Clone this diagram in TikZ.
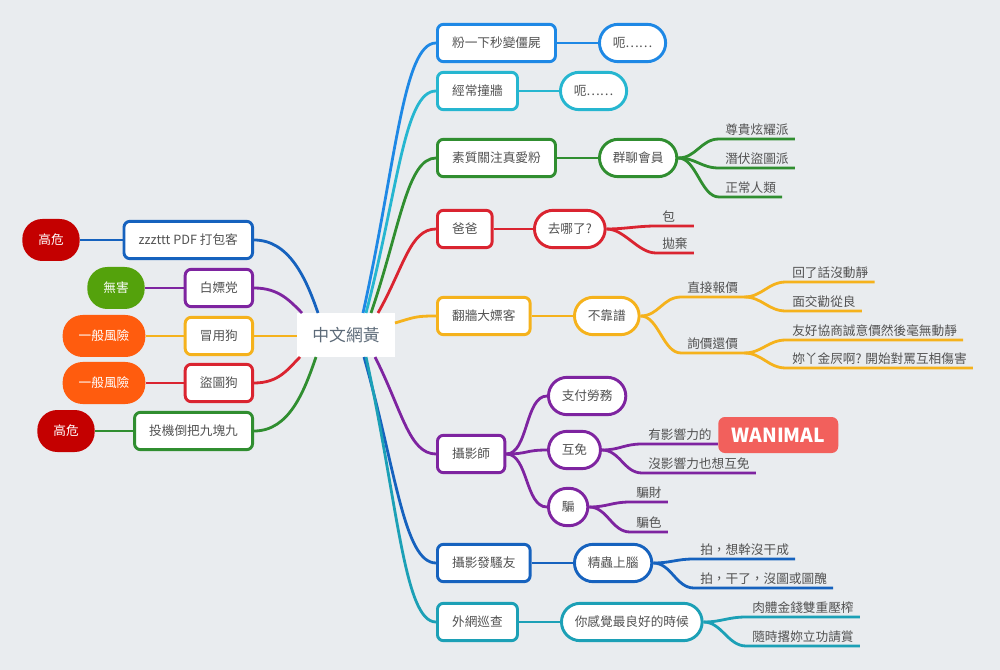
\documentclass[tikz,border=0pt]{standalone}
\usepackage{fontspec}
\setmainfont{Noto Sans CJK TC}
\definecolor{bggray}{RGB}{233,236,239}
\definecolor{txtgray}{RGB}{82,82,82}
\definecolor{rootgray}{RGB}{92,106,120}
\definecolor{mapblue}{RGB}{30,136,229}
\definecolor{mapcyan}{RGB}{38,182,208}
\definecolor{mapgreen}{RGB}{48,142,48}
\definecolor{mapred}{RGB}{218,36,48}
\definecolor{maporange}{RGB}{245,178,28}
\definecolor{mappurple}{RGB}{126,36,160}
\definecolor{mapnavy}{RGB}{22,98,190}
\definecolor{mapteal}{RGB}{28,160,182}
\definecolor{riskhigh}{RGB}{196,0,0}
\definecolor{riskok}{RGB}{84,162,12}
\definecolor{riskmid}{RGB}{255,92,14}
\definecolor{wanred}{RGB}{242,96,92}

\begin{document}
\begin{tikzpicture}[x=0.75pt, y=-0.75pt,
        every node/.style={font=\fontsize{9.5}{11}\selectfont, text=txtgray},
        box/.style={draw=#1, line width=2.2pt, fill=white, rounded corners=4.5pt, minimum height=28pt, inner xsep=11pt},
        pill/.style={box=#1, rounded corners=14pt, inner xsep=10pt},
        risk/.style={fill=#1, text=white, rounded corners=15pt, minimum height=31.5pt, inner xsep=12pt},
        leaf/.style={anchor=south west, inner xsep=4.5pt, inner ysep=2.5pt},
        conn/.style={line width=2.1pt}
    ]
    \fill[bggray] (0,0) rectangle (1000,670);
    \useasboundingbox (0,0) rectangle (1000,670);

    % root
    \node[fill=white, minimum width=73.5pt, minimum height=33pt, text=rootgray, font=\fontsize{12.6}{14}\selectfont] (root) at (346,335) {中文網黃};
    \coordinate (r1) at (363,313);
    \coordinate (r2) at (366,313);
    \coordinate (r3) at (371,313);
    \coordinate (r4) at (378,313);
    \coordinate (r5) at (395,323);
    \coordinate (r6) at (375,357);
    \coordinate (r7) at (364,357);
    \coordinate (r8) at (366,357);
    \coordinate (l1) at (318,313);
    \coordinate (l2) at (302,313);
    \coordinate (l3) at (297,336);
    \coordinate (l4) at (300,357);
    \coordinate (l5) at (316,357);

    % left side
    \node[box=mapnavy, anchor=east] (zpdf) at (254,240) {zzzttt PDF 打包客};
    \node[risk=riskhigh] (zpdfr) at (51,240) {高危};
    \node[box=mappurple, anchor=east] (bpd) at (254,288) {白嫖党};
    \node[risk=riskok] (bpdr) at (116,288) {無害};
    \node[box=maporange, anchor=east] (mgy) at (254,336) {冒用狗};
    \node[risk=riskmid] (mgyr) at (104,336) {一般風險};
    \node[box=mapred, anchor=east] (dtg) at (254,383) {盜圖狗};
    \node[risk=riskmid] (dtgr) at (104,383) {一般風險};
    \node[box=mapgreen, anchor=east] (tjd) at (254,431) {投機倒把九塊九};
    \node[risk=riskhigh] (tjdr) at (66,431) {高危};

    % right side
    \node[box=mapblue, anchor=west] (fyx) at (436,43) {粉一下秒變僵屍};
    \node[pill=mapblue, anchor=west] (fyxe) at (598,43) {呃……};
    \node[box=mapcyan, anchor=west] (jcz) at (436,91) {經常撞牆};
    \node[pill=mapcyan, anchor=west] (jcze) at (559,91) {呃……};
    \node[box=mapgreen, anchor=west] (szg) at (436,158) {素質關注真愛粉};
    \node[pill=mapgreen, anchor=west] (qlh) at (598,158) {群聊會員};
    \node[box=mapred, anchor=west] (bb) at (436,229) {爸爸};
    \node[pill=mapred, anchor=west] (qnl) at (533,229) {去哪了?};
    \node[box=maporange, anchor=west] (fqd) at (436,316) {翻牆大嫖客};
    \node[pill=maporange, anchor=west] (bkp) at (573,316) {不靠譜};
    \node[box=mappurple, anchor=west] (sys) at (436,454) {攝影師};
    \node[pill=mappurple, anchor=west] (zfl) at (547,396) {支付勞務};
    \node[pill=mappurple, anchor=west] (hm) at (547,450) {互免};
    \node[pill=mappurple, anchor=west] (pian) at (547,507) {騙};
    \node[box=mapnavy, anchor=west] (syf) at (436,563) {攝影發騷友};
    \node[pill=mapnavy, anchor=west] (jcs) at (573,563) {精蟲上腦};
    \node[box=mapteal, anchor=west] (wwx) at (436,622) {外網巡查};
    \node[pill=mapteal, anchor=west] (ngj) at (560,622) {你感覺最良好的時候};

    % leaves
    \node[leaf] (zgx) at (719,139) {尊貴炫耀派};
    \node[leaf] (qfd) at (719,168) {潛伏盜圖派};
    \node[leaf] (zcr) at (719,197) {正常人類};
    \node[leaf] (bao) at (656,226) {包};
    \node[leaf] (pq) at (656,253) {拋棄};
    \node[leaf] (zjb) at (681,297) {直接報價};
    \node[leaf] (xjh) at (681,353) {詢價還價};
    \node[leaf] (hlh) at (786,282) {回了話沒動靜};
    \node[leaf] (mjq) at (786,311) {面交勸從良};
    \node[leaf] (yhx) at (786,340) {友好協商誠意價然後毫無動靜};
    \node[leaf] (nyj) at (786,368) {妳丫金屄啊? 開始對罵互相傷害};
    \node[leaf] (yyx) at (642,444) {有影響力的};
    \node[leaf] (myx) at (642,473) {沒影響力也想互免};
    \node[fill=wanred, text=white, rounded corners=5pt, minimum width=90pt, minimum height=27pt,
          font=\fontsize{14.5}{16}\selectfont\bfseries, anchor=west] (wan) at (718,435) {WANIMAL};
    \node[leaf] (pc) at (630,502) {騙財};
    \node[leaf] (ps) at (630,532) {騙色};
    \node[leaf] (pxg) at (694,559) {拍，想幹沒干成};
    \node[leaf] (pgl) at (694,588) {拍，干了，沒圖或圖醜};
    \node[leaf] (rtj) at (746,617) {肉體金錢雙重壓榨};
    \node[leaf] (ssl) at (746,646) {隨時撂妳立功請賞};

    % root to right branches
    \draw[conn, mapblue] (r1) .. controls +(33,-149) and +(-33,0) .. (fyx.west);
    \draw[conn, mapcyan] (r2) .. controls +(32,-122) and +(-32,0) .. (jcz.west);
    \draw[conn, mapgreen] (r3) .. controls +(29,-85) and +(-29,0) .. (szg.west);
    \draw[conn, mapred] (r4) .. controls +(26,-46) and +(-26,0) .. (bb.west);
    \draw[conn, maporange] (r5) .. controls +(20,-6) and +(-20,0) .. (fqd.west);
    \draw[conn, mappurple] (r6) .. controls +(27,53) and +(-27,0) .. (sys.west);
    \draw[conn, mapnavy] (r7) .. controls +(32,113) and +(-32,0) .. (syf.west);
    \draw[conn, mapteal] (r8) .. controls +(32,146) and +(-32,0) .. (wwx.west);

    % root to left branches
    \draw[conn, mapnavy] (zpdf.east) .. controls +(35,0) and +(-12,-35) .. (l1);
    \draw[conn, mappurple] (bpd.east) .. controls +(25,0) and +(-12,-12) .. (l2);
    \draw[conn, maporange] (mgy.east) -- (l3);
    \draw[conn, mapred] (dtg.east) .. controls +(25,0) and +(-12,12) .. (l4);
    \draw[conn, mapgreen] (tjd.east) .. controls +(35,0) and +(-12,35) .. (l5);

    \draw[conn, mapnavy] (zpdfr.east) -- (zpdf.west);
    \draw[conn, mappurple] (bpdr.east) -- (bpd.west);
    \draw[conn, maporange] (mgyr.east) -- (mgy.west);
    \draw[conn, mapred] (dtgr.east) -- (dtg.west);
    \draw[conn, mapgreen] (tjdr.east) -- (tjd.west);

    % branches to second level
    \draw[conn, mapblue] (fyx.east) -- (fyxe.west);
    \draw[conn, mapcyan] (jcz.east) -- (jcze.west);
    \draw[conn, mapgreen] (szg.east) -- (qlh.west);
    \draw[conn, mapred] (bb.east) -- (qnl.west);
    \draw[conn, maporange] (fqd.east) -- (bkp.west);
    \foreach \p in {zfl,hm,pian}
        \draw[conn, mappurple] (sys.east) .. controls +(22,0) and +(-22,0) .. (\p.west);
    \draw[conn, mapnavy] (syf.east) -- (jcs.west);
    \draw[conn, mapteal] (wwx.east) -- (ngj.west);

    % leaf lines
    \foreach \l in {zgx,qfd,zcr}
        \draw[conn, mapgreen] (qlh.east) .. controls +(18,0) and +(-18,0) .. (\l.south west) -- (\l.south east);
    \draw[conn, mapred] (qnl.east) .. controls +(18,0) and +(-18,0) .. (bao.south west) -- (bao.south west -| pq.south east);
    \draw[conn, mapred] (qnl.east) .. controls +(18,0) and +(-18,0) .. (pq.south west) -- (pq.south east);
    \foreach \l in {zjb,xjh}
        \draw[conn, maporange] (bkp.east) .. controls +(18,0) and +(-18,0) .. (\l.south west) -- (\l.south east);
    \foreach \l in {hlh,mjq}
        \draw[conn, maporange] (zjb.south east) .. controls +(18,0) and +(-18,0) .. (\l.south west) -- (\l.south east);
    \foreach \l in {yhx,nyj}
        \draw[conn, maporange] (xjh.south east) .. controls +(18,0) and +(-18,0) .. (\l.south west) -- (\l.south east);
    \foreach \l in {yyx,myx}
        \draw[conn, mappurple] (hm.east) .. controls +(18,0) and +(-18,0) .. (\l.south west) -- (\l.south east);
    \foreach \l in {pc,ps}
        \draw[conn, mappurple] (pian.east) .. controls +(18,0) and +(-18,0) .. (\l.south west) -- (\l.south east);
    \foreach \l in {pxg,pgl}
        \draw[conn, mapnavy] (jcs.east) .. controls +(18,0) and +(-18,0) .. (\l.south west) -- (\l.south east);
    \foreach \l in {rtj,ssl}
        \draw[conn, mapteal] (ngj.east) .. controls +(18,0) and +(-18,0) .. (\l.south west) -- (\l.south east);
\end{tikzpicture}
\end{document}
